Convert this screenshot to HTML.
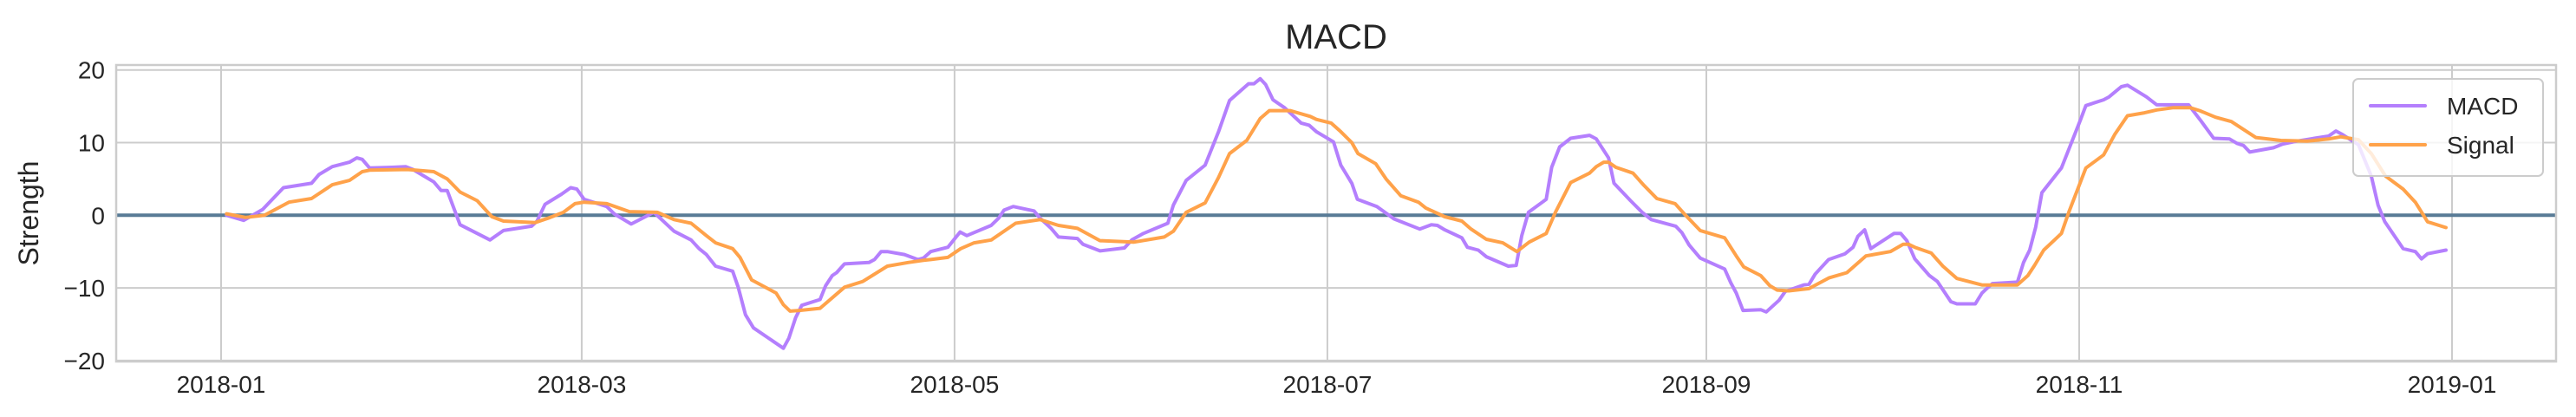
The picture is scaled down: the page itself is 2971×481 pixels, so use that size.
<!DOCTYPE html>
<html><head><meta charset="utf-8"><style>
html,body{margin:0;padding:0;background:#fff;}
svg{display:block;font-family:"Liberation Sans",Arial,sans-serif;}
</style></head><body>
<svg id="chart" width="2971" height="481" viewBox="0 0 2971 481" xmlns="http://www.w3.org/2000/svg">
<rect x="0" y="0" width="2971" height="481" fill="#fff"/>
<text x="1541" y="56" text-anchor="middle" font-size="40" fill="#262626">MACD</text>
<text transform="translate(44,246) rotate(-90)" text-anchor="middle" font-size="32" fill="#262626">Strength</text>
<g id="grid"></g>
<g id="series"></g>
<rect x="134" y="75" width="2814" height="342" fill="none" stroke="#cccccc" stroke-width="2.5"/>
<g id="legend">
  <rect x="2714" y="91" width="219" height="112" rx="6" fill="#fff" fill-opacity="0.8" stroke="#cccccc" stroke-width="2"/>
  <line x1="2734" y1="122" x2="2797" y2="122" stroke="#b47ffd" stroke-width="4" stroke-linecap="round"/>
  <text x="2822" y="132" font-size="28" fill="#262626">MACD</text>
  <line x1="2734" y1="167" x2="2797" y2="167" stroke="#ffa24a" stroke-width="4" stroke-linecap="round"/>
  <text x="2822" y="177" font-size="28" fill="#262626">Signal</text>
</g>
</svg>
<script>
const xTickLabels = ["2018-01","2018-03","2018-05","2018-07","2018-09","2018-11","2019-01"];
const xTickDays = [0,59,120,181,243,304,365];
const yTickValues = [20,10,0,-10,-20];
const macdDays = [0.9,3.7,6.8,10.2,14.8,16,18.2,21,22.2,23.1,24.3,28,30.2,31.4,34.8,36,37,39.1,44,46.2,50.8,51.7,53,55.7,57.2,58.2,59.4,63.1,64.3,67.1,70.8,74.1,76.9,78.2,79.4,80.9,83.7,84.6,85.8,87.1,92,92.9,94,95,98,98.9,100,100.7,102,106,106.9,108,109,111.8,114,114.9,116.1,118.9,120.9,122,126,127.2,128.1,129.6,133,134,135.8,137,140.1,141,143.8,147.8,149,150.9,154.9,155.8,157.9,161,163.2,165,168.1,169,170,170.9,172.1,174,176.7,178,179.2,182,183.2,185,185.9,189.1,191.9,196.1,198,199,200.2,203,203.9,205.7,207,210.6,211.9,212.8,213.9,216.8,217.7,219,220.8,223.9,225,227,227.9,230.6,232.5,234,238,239,240.2,242,246,247,247.9,249,251.9,252.8,254.9,255.9,258.9,259.8,260.8,263,265.7,267,267.8,268.9,269.9,273.7,274.8,275.8,277.1,279.5,280.8,283,284,287,288.1,289.1,289.8,293.9,294.9,295.9,296.9,297.9,301.1,304.2,305.1,308,308.9,310.9,311.9,315,316.7,318.8,321.9,324,326,328.6,329.8,330.9,331.9,335.8,337.3,339.6,342.5,344.8,346,347.1,349.7,351.8,352.9,354,357,359,360,361,364];
const macdValues = [0,-0.7,0.8,3.8,4.4,5.6,6.7,7.3,7.9,7.7,6.5,6.6,6.7,6.3,4.6,3.4,3.4,-1.3,-3.4,-2.1,-1.5,-0.8,1.5,2.9,3.8,3.6,2.2,1.2,0.2,-1.2,0.4,-2.2,-3.4,-4.6,-5.4,-7.0,-7.7,-9.9,-13.7,-15.5,-18.3,-16.9,-14.1,-12.4,-11.6,-9.7,-8.3,-7.9,-6.7,-6.5,-6.1,-5.0,-5.0,-5.4,-6.1,-5.9,-5.0,-4.4,-2.3,-2.8,-1.4,-0.4,0.7,1.2,0.6,-0.4,-1.8,-3.0,-3.2,-4.0,-4.9,-4.5,-3.4,-2.5,-1.1,1.4,4.8,6.9,11.5,15.8,18.1,18.1,18.8,18.0,15.9,14.8,12.7,12.4,11.5,10.1,6.9,4.4,2.2,1.2,-0.5,-1.9,-1.3,-1.4,-2.0,-3.1,-4.4,-4.8,-5.7,-7.0,-6.9,-2.8,0.4,2.2,6.6,9.4,10.6,11.0,10.5,7.9,4.4,2.0,0.4,-0.6,-1.5,-2.4,-4.1,-5.9,-7.4,-9.3,-10.7,-13.1,-13.0,-13.3,-11.7,-10.5,-9.6,-9.5,-8.1,-6.1,-5.3,-4.4,-2.9,-2.0,-4.6,-2.5,-2.5,-3.5,-6.0,-8.3,-9.1,-11.9,-12.2,-12.2,-10.7,-9.9,-9.4,-9.2,-6.5,-4.8,-1.6,3.1,6.5,13.1,15.1,15.9,16.3,17.7,17.9,16.3,15.2,15.2,15.2,12.9,10.6,10.5,9.9,9.6,8.7,9.3,9.8,10.2,10.6,10.9,11.6,11.1,9.7,5.4,1.4,-0.9,-4.6,-5.0,-6.0,-5.3,-4.8];
const signalDays = [0.9,4,7.1,11.1,14.8,18.2,21,23.1,24.3,30.5,34.8,37,39.1,41.9,44.3,46.2,51.4,53.5,56,57.9,59.4,63.1,66.8,71.4,74.1,76.9,79.4,80.9,83.7,84.9,86.8,90.8,92,93.1,94.6,98,102,105,109,112.4,114.9,116.1,118.9,121,123.2,126,130,134,137,140.1,143.8,149.3,154.3,155.8,157.9,161,163.2,165,167.8,170,171.5,174.9,178.2,179.2,181.6,183.2,185,186,188.9,190.6,193,195.9,197.1,200.2,203,204.5,207,209.7,212,214,216.8,218.3,220.8,223.9,225,226.2,227,228.2,231,232.8,234.9,237.9,239.5,242,246,247.9,249.1,251.9,253.4,254.6,256.5,259.8,263.1,266,269.1,273.1,275.2,276.1,277.1,279.8,281.7,284,288.1,293.9,295.6,296.7,298.2,301.1,302.3,305.1,308,309.8,311.9,314.7,316.7,319.3,322.2,323.7,326.3,328.9,332.9,337,341.3,344.8,346.8,349.7,351.8,354.1,357,359,361,364];
const signalValues = [0.2,-0.3,0,1.8,2.3,4.2,4.8,6.0,6.2,6.3,6.0,5.0,3.2,2.0,-0.2,-0.8,-1.0,-0.4,0.4,1.6,1.8,1.6,0.5,0.4,-0.6,-1.1,-2.8,-3.8,-4.6,-5.8,-8.9,-10.7,-12.3,-13.2,-13.1,-12.8,-9.9,-9.1,-7.0,-6.5,-6.2,-6.1,-5.8,-4.6,-3.8,-3.4,-1.1,-0.6,-1.4,-1.8,-3.5,-3.7,-3.0,-2.2,0.4,1.7,5.2,8.5,10.3,13.3,14.4,14.4,13.6,13.2,12.7,11.5,10.0,8.5,7.1,5.0,2.7,1.8,1.0,-0.2,-0.8,-1.9,-3.3,-3.8,-5.0,-3.7,-2.5,0.4,4.5,5.8,6.7,7.3,7.3,6.6,5.8,4.1,2.3,1.6,0.1,-2.1,-3.1,-5.6,-7.1,-8.3,-9.7,-10.3,-10.4,-10.1,-8.6,-7.9,-5.6,-5.0,-4.0,-4.0,-4.4,-5.2,-7.0,-8.7,-9.6,-9.6,-8.3,-6.9,-4.8,-2.5,0.4,6.5,8.3,11.1,13.7,14.1,14.5,14.8,14.8,14.4,13.5,12.9,10.7,10.3,10.2,10.5,10.8,10.4,8.5,5.4,3.6,1.8,-0.9,-1.7];

const NS = "http://www.w3.org/2000/svg";
const plotLeft = 134, plotRight = 2948;
function xScale(day){ return 255 + day * (2828 - 255) / 365; }
function yScale(v){ return 248.3 - v * 8.38; }

const grid = document.getElementById('grid');
const svg = document.getElementById('chart');
yTickValues.forEach(function(v){
  const l = document.createElementNS(NS,'line');
  l.setAttribute('x1', plotLeft); l.setAttribute('x2', plotRight);
  l.setAttribute('y1', yScale(v)); l.setAttribute('y2', yScale(v));
  l.setAttribute('stroke', '#cccccc'); l.setAttribute('stroke-width', '2');
  
  
  grid.appendChild(l);
  const t = document.createElementNS(NS,'text');
  t.setAttribute('x', 121); t.setAttribute('y', yScale(v) + 10);
  t.setAttribute('text-anchor', 'end'); t.setAttribute('font-size', '28'); t.setAttribute('fill', '#262626');
  t.textContent = v < 0 ? '\u2212' + Math.abs(v) : String(v);
  
  
  svg.appendChild(t);
});
xTickDays.forEach(function(d, i){
  const l = document.createElementNS(NS,'line');
  l.setAttribute('x1', xScale(d)); l.setAttribute('x2', xScale(d));
  l.setAttribute('y1', 75); l.setAttribute('y2', 417);
  l.setAttribute('stroke', '#cccccc'); l.setAttribute('stroke-width', '2');
  
  
  grid.appendChild(l);
  const t = document.createElementNS(NS,'text');
  t.setAttribute('x', xScale(d)); t.setAttribute('y', 453);
  t.setAttribute('text-anchor', 'middle'); t.setAttribute('font-size', '28'); t.setAttribute('fill', '#262626');
  t.textContent = xTickLabels[i];
  
  
  svg.appendChild(t);
});

const series = document.getElementById('series');
const zero = document.createElementNS(NS,'line');
zero.setAttribute('x1', plotLeft); zero.setAttribute('x2', plotRight);
zero.setAttribute('y1', yScale(0)); zero.setAttribute('y2', yScale(0));
zero.setAttribute('stroke', '#587b96'); zero.setAttribute('stroke-width', '4');


series.appendChild(zero);

function drawLine(days, vals, color, name){
  const p = document.createElementNS(NS,'polyline');
  p.setAttribute('points', days.map(function(d,i){ return xScale(d).toFixed(1)+','+yScale(vals[i]).toFixed(1); }).join(' '));
  p.setAttribute('fill', 'none'); p.setAttribute('stroke', color); p.setAttribute('stroke-width', '4');
  p.setAttribute('stroke-linejoin', 'round'); p.setAttribute('stroke-linecap', 'round');
  
  
  series.appendChild(p);
}
drawLine(macdDays, macdValues, '#b47ffd', 'macd-line');
drawLine(signalDays, signalValues, '#ffa24a', 'signal-line');
</script>
</body></html>
